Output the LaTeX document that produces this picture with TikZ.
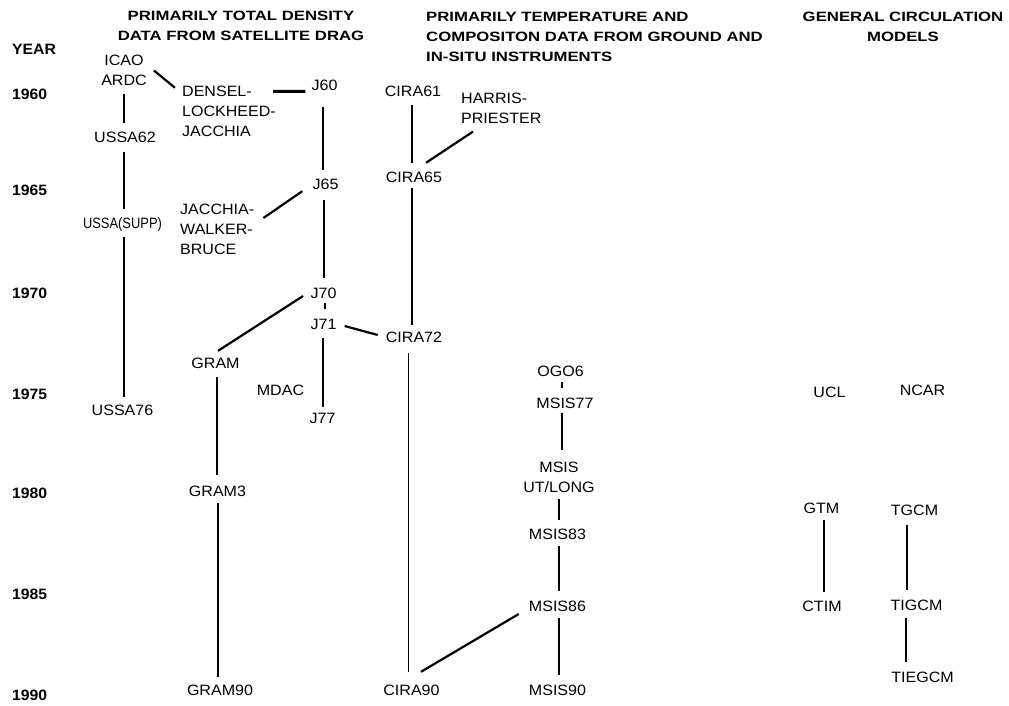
\documentclass[tikz,border=0pt]{standalone}
\usepackage{fontspec}
\setmainfont{Liberation Sans}
\newfontfamily\lblfont[FakeStretch=1.07]{Liberation Sans}
\newfontfamily\cndfont[FakeStretch=0.86]{Liberation Sans}
\newfontfamily\hdrfont[FakeStretch=1.24]{Liberation Sans}
\newfontfamily\yrfont[FakeStretch=1.05]{Liberation Sans}
\tikzset{
  lbl/.style={font=\lblfont\fontsize{15}{20}\selectfont, inner xsep=3pt, inner ysep=0pt, text height=10.7pt, text depth=0pt},
  cnd/.style={font=\cndfont\fontsize{15}{20}\selectfont, inner xsep=3pt, inner ysep=0pt, text height=10.7pt, text depth=0pt},
  mlbl/.style={font=\lblfont\fontsize{15}{20}\selectfont, inner xsep=3pt, inner ysep=0pt},
  hdr/.style={font=\hdrfont\bfseries\fontsize{13.5}{20}\selectfont, inner sep=0pt},
  yr/.style={font=\yrfont\bfseries\fontsize{15}{18}\selectfont, inner sep=0pt, anchor=west, text height=10.7pt, text depth=0pt},
  vl/.style={line width=1.4pt},
  dl/.style={line width=2.2pt},
  hl/.style={line width=3pt},
}
\newcommand\vlink[5]{\draw[vl, shorten <=#4pt, shorten >=#5pt] ([xshift=#3pt]#1.south) -- ([xshift=#3pt]#1.south |- #2.north);}
\begin{document}
\begin{tikzpicture}[x=1pt,y=-1pt]
\path[fill=white, use as bounding box] (0,0) rectangle (1009,706);

% headers
\node[hdr, align=center] (h1) at (241,25.4) {PRIMARILY TOTAL DENSITY\\DATA FROM SATELLITE DRAG};
\node[hdr, align=left, anchor=west] (h2) at (426,37) {PRIMARILY TEMPERATURE AND\\COMPOSITON DATA FROM GROUND AND\\IN-SITU INSTRUMENTS};
\node[hdr, align=center] (h3) at (903,26.5) {GENERAL CIRCULATION\\MODELS};

% years
\node[yr] (year) at (12,49.5) {YEAR};
\node[yr] (y60) at (12,93.7) {1960};
\node[yr] (y65) at (12,190.2) {1965};
\node[yr] (y70) at (12,292.8) {1970};
\node[yr] (y75) at (12,394.2) {1975};
\node[yr] (y80) at (12,492.8) {1980};
\node[yr] (y85) at (12,594.2) {1985};
\node[yr] (y90) at (12,695.5) {1990};

% satellite drag column
\node[mlbl, align=center] (icao) at (124,70.5) {ICAO\\ARDC};
\node[mlbl, align=left, anchor=west] (densel) at (179,111.3) {DENSEL-\\LOCKHEED-\\JACCHIA};
\node[lbl] (j60) at (324.5,85.3) {J60};
\node[lbl] (ussa62) at (125,137.5) {USSA62};
\node[lbl] (j65) at (325.5,183.8) {J65};
\node[mlbl, align=left, anchor=west] (jwb) at (177,229) {JACCHIA-\\WALKER-\\BRUCE};
\node[cnd] (ussasupp) at (122.5,223) {USSA(SUPP)};
\node[lbl] (j70) at (323.5,293.5) {J70};
\node[lbl] (j71) at (323.5,324.5) {J71};
\node[lbl] (gram) at (215.5,363) {GRAM};
\node[lbl] (mdac) at (280.5,390) {MDAC};
\node[lbl] (ussa76) at (122.5,410) {USSA76};
\node[lbl] (j77) at (322.5,418.3) {J77};
\node[lbl] (gram3) at (217.5,491.2) {GRAM3};
\node[lbl] (gram90) at (220,690) {GRAM90};

% ground / in-situ column
\node[lbl] (cira61) at (413,91.3) {CIRA61};
\node[mlbl, align=left, anchor=west] (harris) at (458,108.1) {HARRIS-\\PRIESTER};
\node[lbl] (cira65) at (414,177.5) {CIRA65};
\node[lbl] (cira72) at (414,337.5) {CIRA72};
\node[lbl] (cira90) at (411.5,690) {CIRA90};
\node[lbl] (ogo6) at (560.5,371) {OGO6};
\node[lbl] (msis77) at (565,403) {MSIS77};
\node[mlbl, align=center] (msisut) at (559,477) {MSIS\\UT/LONG};
\node[lbl] (msis83) at (557.5,534.5) {MSIS83};
\node[lbl] (msis86) at (557.5,605.7) {MSIS86};
\node[lbl] (msis90) at (557.5,690) {MSIS90};

% general circulation models
\node[lbl] (ucl) at (829.5,392.5) {UCL};
\node[lbl] (ncar) at (922.5,390) {NCAR};
\node[lbl] (gtm) at (821.5,507.8) {GTM};
\node[lbl] (tgcm) at (914.5,509.7) {TGCM};
\node[lbl] (ctim) at (822,605.7) {CTIM};
\node[lbl] (tigcm) at (916.5,605) {TIGCM};
\node[lbl] (tiegcm) at (922.5,676.7) {TIEGCM};

% vertical links
\vlink{icao}{ussa62}{0}{7.6}{9.2}
\vlink{ussa62}{ussasupp}{-1}{9.1}{8.6}
\vlink{ussasupp}{ussa76}{1.5}{8.6}{7.6}
\vlink{j60}{j65}{-1.5}{16.3}{8.5}
\vlink{j65}{j70}{-1.5}{10.8}{10.2}
\vlink{j70}{j71}{1.5}{4}{10.2}
\vlink{j71}{j77}{-0.5}{8}{6}
\vlink{gram}{gram3}{1.5}{8.6}{10.9}
\vlink{gram3}{gram90}{0.5}{6.4}{7.7}
\vlink{cira61}{cira65}{-1}{8.3}{9.2}
\vlink{cira65}{cira72}{-2}{5.1}{7.2}
\vlink{cira72}{cira90}{-5.5}{10.1}{12.7}
\vlink{ogo6}{msis77}{1.5}{5.6}{9.7}
\vlink{msis77}{msisut}{-3}{4.6}{11.4}
\vlink{msisut}{msis83}{0}{6.6}{9.2}
\vlink{msis83}{msis86}{1.5}{6.1}{9.4}
\vlink{msis86}{msis90}{1.5}{6.9}{9.7}
\vlink{gtm}{ctim}{2.5}{6.8}{8.4}
\vlink{tgcm}{tigcm}{-7.5}{9.9}{9.7}
\vlink{tigcm}{tiegcm}{-10.5}{7.6}{9.4}

% slanted and horizontal links
\draw[dl] ([xshift=4pt]icao.east) -- ([xshift=-4pt,yshift=-2pt]densel.north west);
\draw[hl] ([xshift=-6pt,yshift=-5.5pt]densel.north east) -- ([xshift=-3pt,yshift=-6pt]j60.west);
\draw[dl] ([xshift=6pt,yshift=11pt]jwb.east) -- ([xshift=-7pt,yshift=-1.8pt]j65.south west);
\draw[dl] ([xshift=15pt,yshift=-8pt]harris.south west) -- ([xshift=12pt,yshift=9.15pt]cira65.north);
\draw[dl] ([xshift=-4.3pt,yshift=-2.5pt]j70.west) -- ([xshift=2.5pt,yshift=6.6pt]gram.north);
\draw[dl] ([xshift=5pt,yshift=-1.5pt]j71.east) -- ([xshift=-5pt,yshift=2.5pt]cira72.west);
\draw[dl] ([xshift=9.5pt,yshift=12.65pt]cira90.north) -- ([xshift=-7pt,yshift=-8.3pt]msis86.west);
\end{tikzpicture}
\end{document}
